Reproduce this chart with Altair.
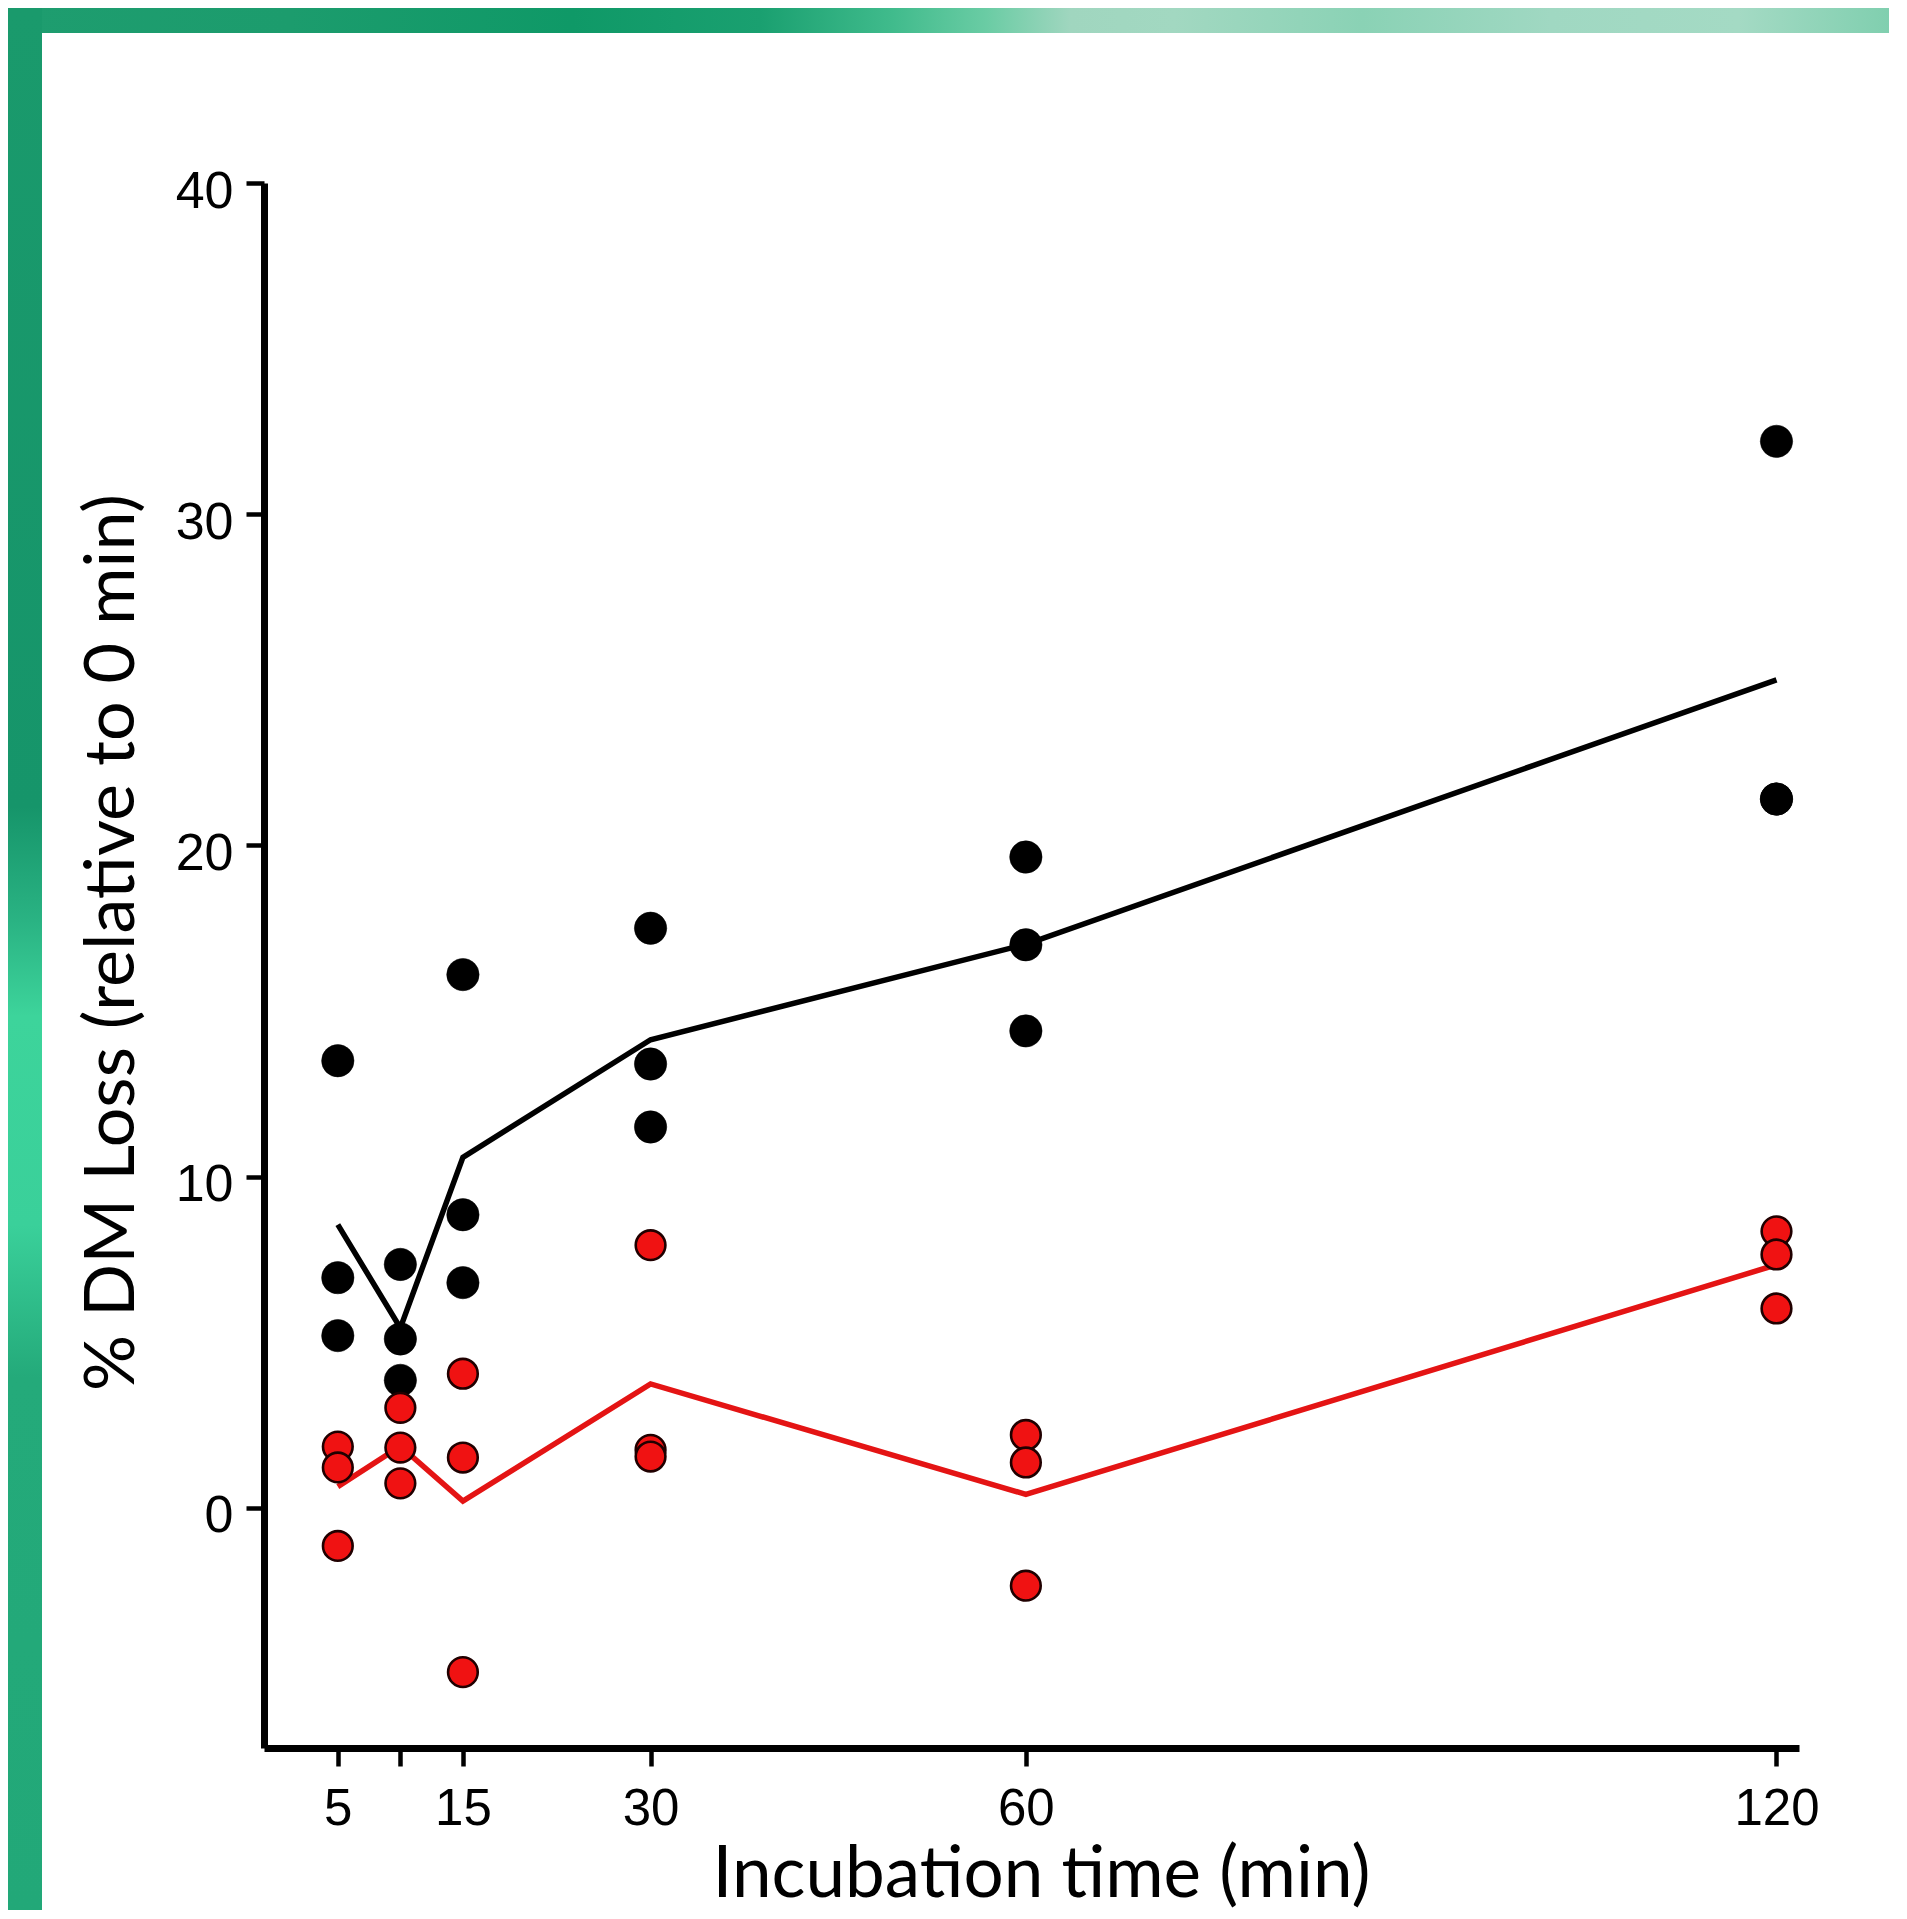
import altair as alt
import pandas as pd

# ---- data ----
times = [5, 10, 15, 30, 60, 120]
black_rep1 = [13.5, 7.35, 16.1, 17.5, 19.65, 32.2]
black_rep2 = [6.95, 5.1, 8.85, 13.4, 17.0, 21.4]
black_rep3 = [5.2, 3.85, 6.8, 11.5, 14.4, 21.4]
red_rep1 = [1.85, 3.02, 4.05, 7.93, 2.2, 8.35]
red_rep2 = [1.22, 1.82, 1.52, 1.75, 1.37, 7.65]
red_rep3 = [-1.15, 0.74, -4.96, 1.55, -2.35, 6.02]

x_ticks = [5, 10, 15, 30, 60, 120]
y_ticks = [0, 10, 20, 30, 40]
x_title = "Incubation time (min)"
y_title = "% DM Loss (relative to 0 min)"

rows = []
for series, reps in (("black", [black_rep1, black_rep2, black_rep3]),
                     ("red", [red_rep1, red_rep2, red_rep3])):
    for r, vals in enumerate(reps):
        for t, v in zip(times, vals):
            rows.append({"time": t, "loss": v, "series": series, "rep": r})
df = pd.DataFrame(rows)

W, H = 1535, 1565
PAD_L, PAD_T, PAD_R, PAD_B = 256, 175, 90, 162

x_scale = alt.Scale(domain=[-0.9, 121.8], nice=False, zero=False)
y_scale = alt.Scale(domain=[-7.25, 40], nice=False, zero=False)
color_scale = alt.Scale(domain=["black", "red"], range=["#000000", "#e41414"])

x_axis = alt.Axis(
    values=x_ticks,
    labelExpr="datum.value == 10 ? '' : datum.label",
    grid=False,
    domainColor="black", domainWidth=7,
    tickColor="black", tickWidth=4.5, tickSize=18,
    labelFont="Liberation Sans", labelFontSize=51, labelColor="black",
    labelPadding=18, labelFlush=False, labelOverlap=False,
    titleFont="Lato", titleFontSize=71, titleFontWeight="normal", titleColor="black",
    titleX=777, titleY=148, titleAlign="center", titleBaseline="alphabetic",
)
y_axis = alt.Axis(
    values=y_ticks,
    grid=False,
    domainColor="black", domainWidth=7,
    tickColor="black", tickWidth=4.5, tickSize=18,
    labelFont="Liberation Sans", labelFontSize=52, labelColor="black",
    labelPadding=13, labelOffset=8, labelFlush=False, labelOverlap=False,
    titleFont="Lato", titleFontSize=70, titleFontWeight="normal", titleColor="black",
    titleAngle=270, titleX=-131, titleY=759, titleAlign="center", titleBaseline="alphabetic",
)

base = alt.Chart(df)

lines = base.mark_line(strokeWidth=5.5).encode(
    x=alt.X("time:Q", scale=x_scale, axis=x_axis, title=x_title),
    y=alt.Y("mean(loss):Q", scale=y_scale, axis=y_axis, title=y_title),
    color=alt.Color("series:N", scale=color_scale, legend=None),
    detail="series:N",
)

black_pts = base.transform_filter(alt.datum.series == "black").mark_circle(
    size=1050, fill="#000000", fillOpacity=1, stroke="#000000", strokeWidth=0.5, opacity=1
).encode(
    x=alt.X("time:Q", scale=x_scale),
    y=alt.Y("loss:Q", scale=y_scale),
)

red_pts = base.transform_filter(alt.datum.series == "red").mark_circle(
    size=880, fill="#f01212", fillOpacity=1, stroke="#200000", strokeWidth=2.6, opacity=1
).encode(
    x=alt.X("time:Q", scale=x_scale),
    y=alt.Y("loss:Q", scale=y_scale),
)

# ---- decorative slide frame (green bands) ----
frame_df = pd.DataFrame({"k": [0]})
top_grad = alt.LinearGradient(
    gradient="linear", x1=0, x2=1, y1=0, y2=0,
    stops=[
        alt.GradientStop(color="#1e9d6f", offset=0.0),
        alt.GradientStop(color="#1c9c6d", offset=0.15),
        alt.GradientStop(color="#0f9967", offset=0.3),
        alt.GradientStop(color="#1aa070", offset=0.4),
        alt.GradientStop(color="#40bb8c", offset=0.47),
        alt.GradientStop(color="#6acca4", offset=0.52),
        alt.GradientStop(color="#a0d6bf", offset=0.565),
        alt.GradientStop(color="#a2d8c1", offset=0.62),
        alt.GradientStop(color="#8ad2b5", offset=0.72),
        alt.GradientStop(color="#a0d8c2", offset=0.82),
        alt.GradientStop(color="#a4dac4", offset=0.92),
        alt.GradientStop(color="#80cfaf", offset=1.0),
    ],
)
left_grad = alt.LinearGradient(
    gradient="linear", x1=0, x2=0, y1=0, y2=1,
    stops=[
        alt.GradientStop(color="#1a9a6c", offset=0.0),
        alt.GradientStop(color="#16956a", offset=0.42),
        alt.GradientStop(color="#2ab383", offset=0.48),
        alt.GradientStop(color="#3dd49b", offset=0.53),
        alt.GradientStop(color="#3ad09a", offset=0.64),
        alt.GradientStop(color="#24aa7a", offset=0.72),
        alt.GradientStop(color="#22a878", offset=1.0),
    ],
)
top_band = alt.Chart(frame_df).mark_rect(fill=top_grad, strokeWidth=0).encode(
    x=alt.value(-PAD_L), x2=alt.value(W + PAD_R), y=alt.value(-PAD_T), y2=alt.value(-PAD_T + 25)
)
left_band = alt.Chart(frame_df).mark_rect(fill=left_grad, strokeWidth=0).encode(
    x=alt.value(-PAD_L), x2=alt.value(-PAD_L + 34), y=alt.value(-PAD_T), y2=alt.value(H + PAD_B)
)

chart = alt.layer(top_band, left_band, lines, black_pts, red_pts).properties(
    width=W, height=H,
    autosize=alt.AutoSizeParams(type="none"),
    padding={"left": PAD_L, "top": PAD_T, "right": PAD_R, "bottom": PAD_B},
    background="white",
).configure_view(stroke=None, clip=False)

chart.save("out.html", embed_options={"renderer": "svg", "actions": False})
